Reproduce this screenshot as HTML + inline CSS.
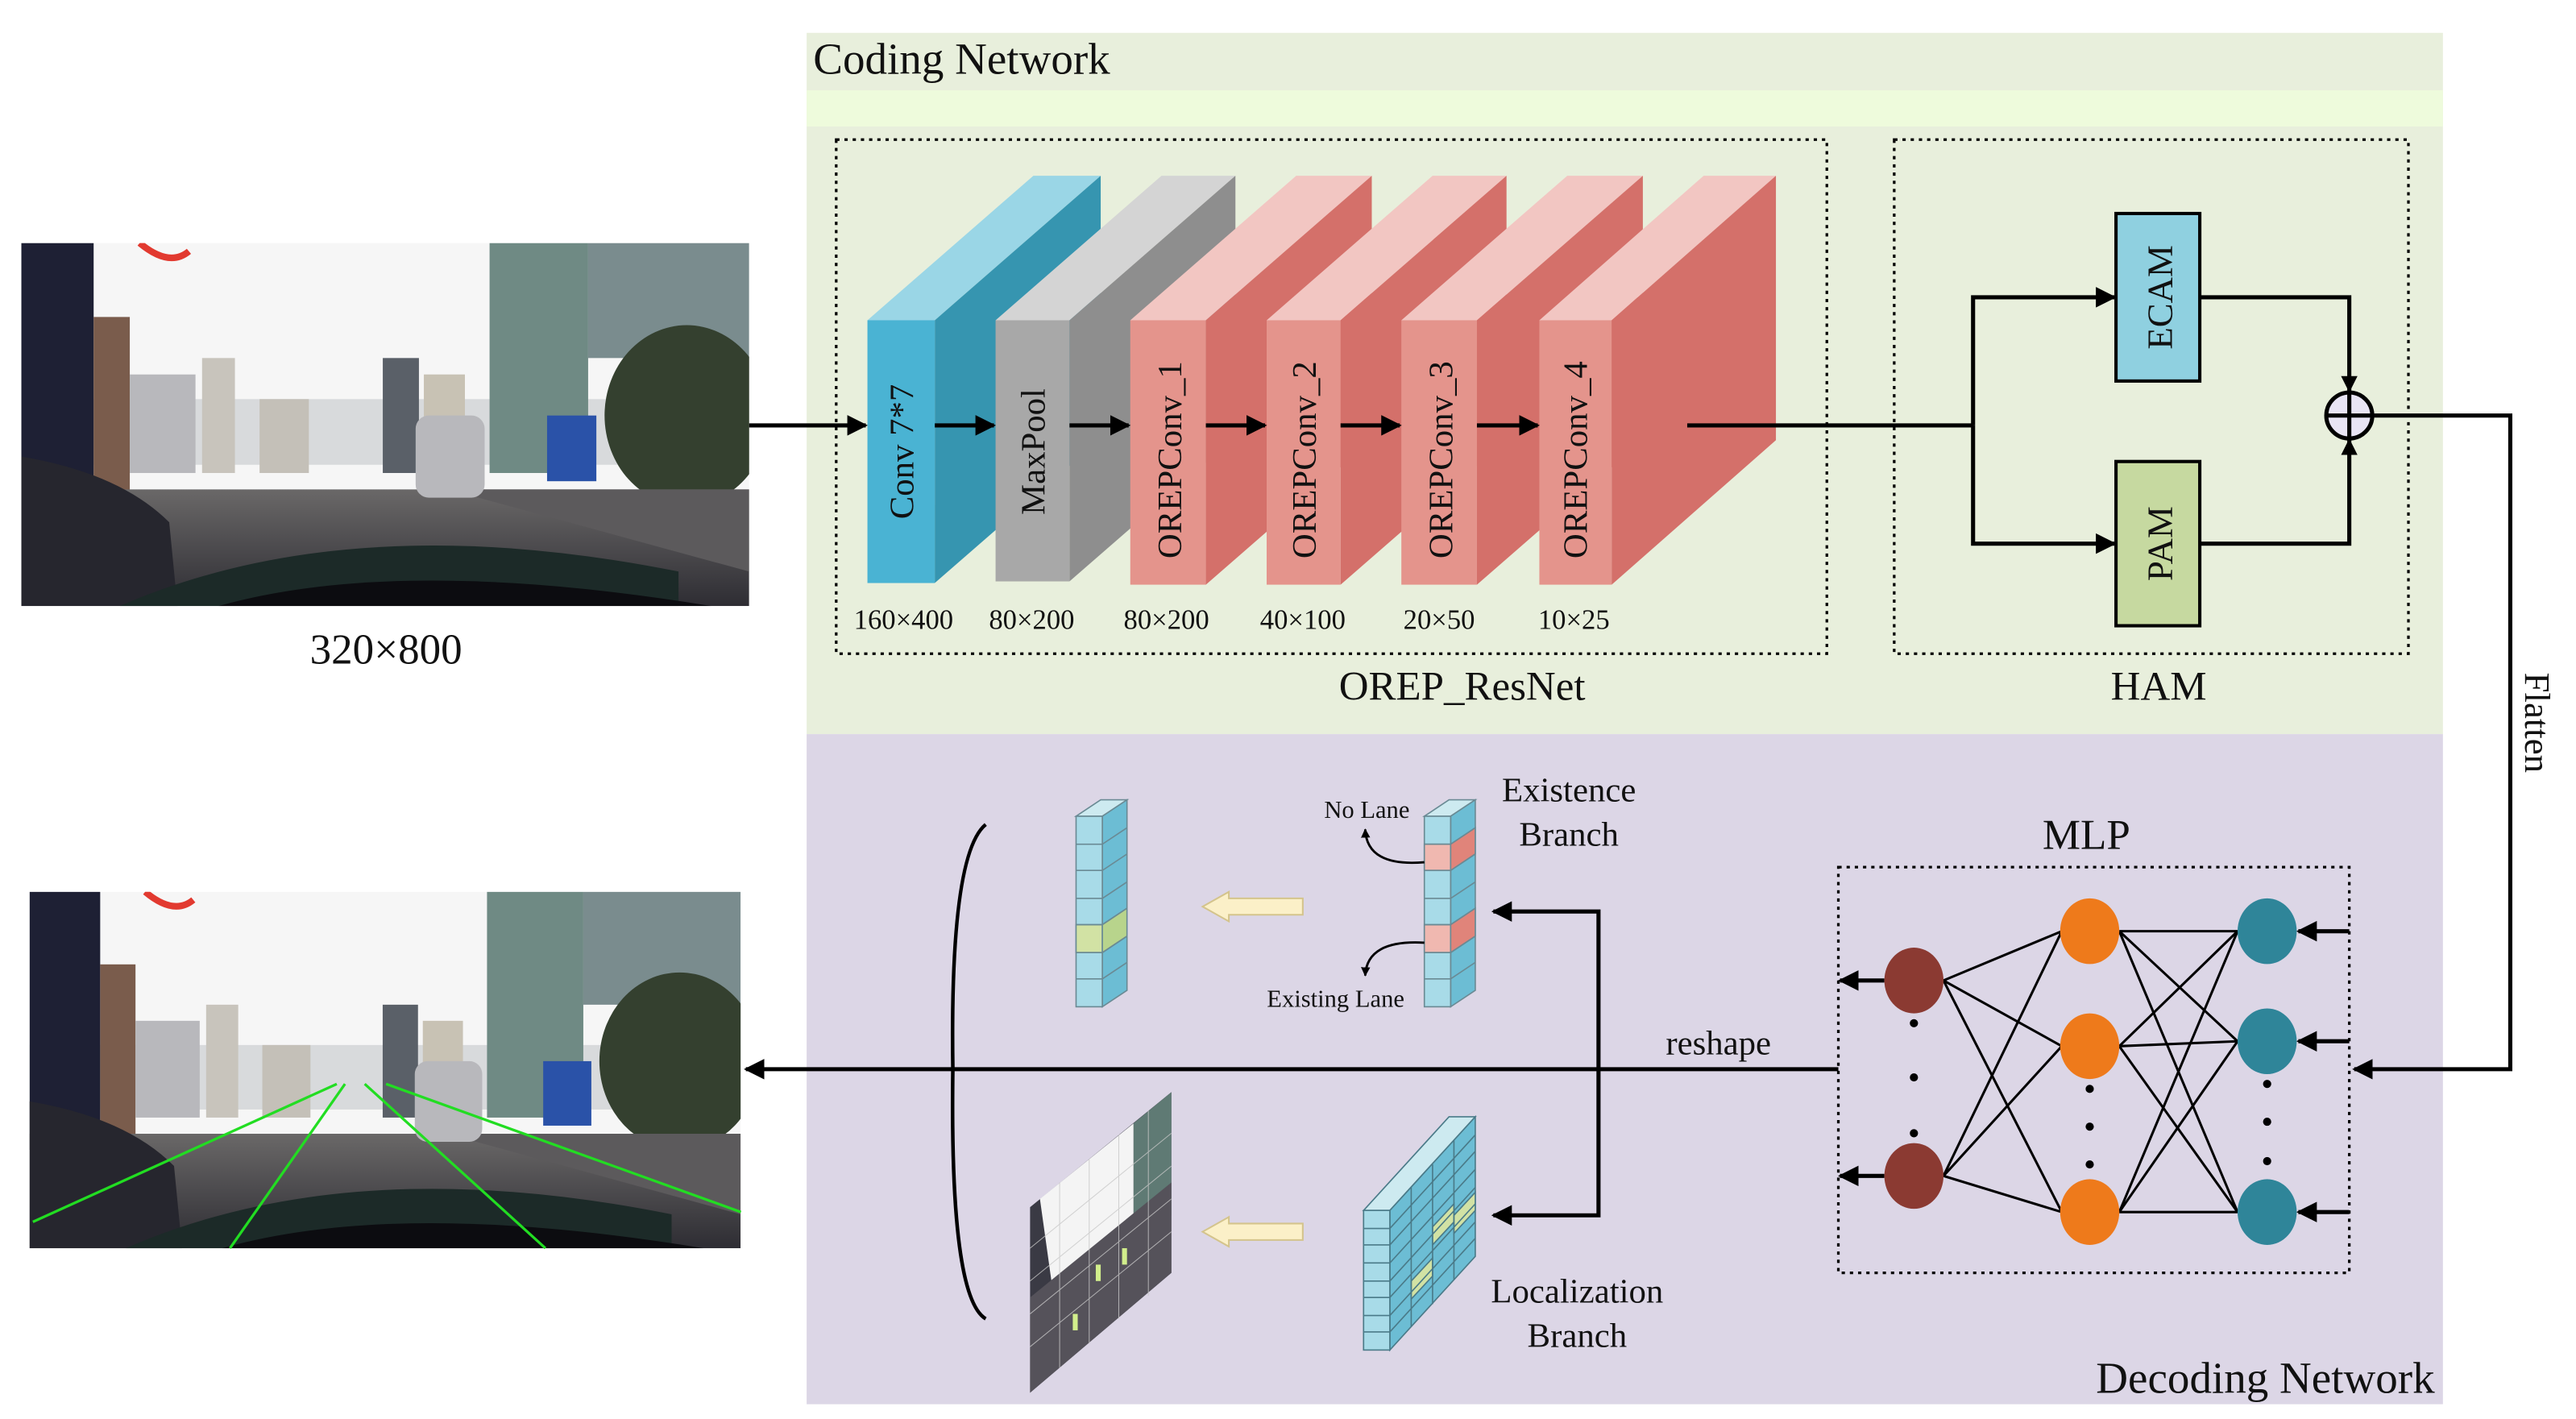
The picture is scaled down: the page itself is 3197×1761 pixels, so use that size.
<!DOCTYPE html>
<html><head><meta charset="utf-8"><style>
html,body{margin:0;padding:0;background:#fff}
svg{display:block}
text{font-family:"Liberation Serif",serif;fill:#111}
</style></head><body>
<svg width="3197" height="1761" viewBox="0 0 1568 864" preserveAspectRatio="none" xmlns="http://www.w3.org/2000/svg">
<defs>
<marker id="ah" viewBox="0 0 10 10" refX="9" refY="5" markerWidth="5" markerHeight="5" orient="auto"><path d="M0,0 L10,5 L0,10 z" fill="#000"/></marker>
<marker id="as" viewBox="0 0 10 10" refX="9" refY="5" markerWidth="4" markerHeight="4" orient="auto"><path d="M0,0 L10,5 L0,10 z" fill="#000"/></marker>
<linearGradient id="road" x1="0" y1="0" x2="0" y2="1"><stop offset="0" stop-color="#6a6868"/><stop offset="1" stop-color="#2e2d33"/></linearGradient>
<clipPath id="pc"><rect x="0" y="0" width="443" height="221"/></clipPath>
<g id="photo" clip-path="url(#pc)">
<rect x="0" y="0" width="443" height="221" fill="#f6f6f6"/>
<rect x="0" y="95" width="443" height="40" fill="#d8dadc"/>
<rect x="0" y="0" width="44" height="160" fill="#1e2034"/>
<rect x="44" y="45" width="22" height="110" fill="#7a5c4c"/>
<rect x="66" y="80" width="40" height="60" fill="#b8b8bc"/>
<rect x="110" y="70" width="20" height="70" fill="#c8c4bc"/>
<rect x="145" y="95" width="30" height="45" fill="#c4c0b8"/>
<rect x="220" y="70" width="22" height="70" fill="#5a6068"/>
<rect x="245" y="80" width="25" height="60" fill="#c8c2b4"/>
<rect x="285" y="0" width="60" height="140" fill="#6f8a84"/>
<rect x="345" y="0" width="98" height="70" fill="#7a8c8e"/>
<ellipse cx="405" cy="105" rx="50" ry="55" fill="#34402f"/>
<rect x="320" y="105" width="30" height="40" fill="#2a52a8"/>
<polygon points="0,150 443,150 443,221 0,221" fill="url(#road)"/>
<polygon points="180,150 260,150 443,200 443,150" fill="#5c5a5c"/>
<rect x="240" y="105" width="42" height="50" rx="8" fill="#b8b8bc"/>
<path d="M0,130 Q60,140 90,170 L95,221 L0,221 z" fill="#26262e"/>
<path d="M60,221 Q200,160 400,200 L400,221 z" fill="#1c2a28"/>
<path d="M120,221 Q230,190 420,221 z" fill="#0c0c10"/>
<path d="M72,0 Q90,15 102,5" stroke="#e23a30" stroke-width="4" fill="none"/>
</g>
</defs>

<rect x="491" y="20" width="996" height="427" fill="#e8efdc"/>
<rect x="491" y="55" width="996" height="22" fill="#eefbdc"/>
<rect x="491" y="447" width="996" height="408" fill="#dcd6e6"/>
<text x="495" y="45" font-size="27">Coding Network</text>
<text x="1482" y="848" font-size="27" text-anchor="end">Decoding Network</text>

<use href="#photo" transform="translate(13,148)"/>
<text x="235" y="404" font-size="26" text-anchor="middle">320×800</text>
<use href="#photo" transform="translate(18,543) scale(0.977,0.982)"/>
<g stroke="#22dd22" stroke-width="1.6">
<line x1="20" y1="744" x2="205" y2="660"/>
<line x1="140" y1="760" x2="210" y2="660"/>
<line x1="332" y1="760" x2="222" y2="660"/>
<line x1="451" y1="738" x2="235" y2="660"/>
</g>

<rect x="509" y="85" width="603" height="313" fill="none" stroke="#000" stroke-width="1.6" stroke-dasharray="2,3"/>
<rect x="1153" y="85" width="313" height="313" fill="none" stroke="#000" stroke-width="1.6" stroke-dasharray="2,3"/>
<text x="890" y="426" font-size="25" text-anchor="middle">OREP_ResNet</text>
<text x="1314" y="426" font-size="25" text-anchor="middle">HAM</text>

<g>
<polygon points="528,195 569,195 670,107 629,107" fill="#9ad6e6"/>
<polygon points="569,195 670,107 670,267 569,355" fill="#3695b0"/>
<rect x="528" y="195" width="41" height="160" fill="#4ab3d3"/>
<polygon points="606,195 651,195 752,107 707,107" fill="#d4d4d4"/>
<polygon points="651,195 752,107 752,266 651,354" fill="#8e8e8e"/>
<rect x="606" y="195" width="45" height="159" fill="#a8a8a8"/>
<polygon points="688,195 734,195 835,107 789,107" fill="#f2c6c2"/>
<polygon points="734,195 835,107 835,268 734,356" fill="#d4706a"/>
<rect x="688" y="195" width="46" height="161" fill="#e4948c"/>
<polygon points="771,195 816,195 917,107 872,107" fill="#f2c6c2"/>
<polygon points="816,195 917,107 917,268 816,356" fill="#d4706a"/>
<rect x="771" y="195" width="45" height="161" fill="#e4948c"/>
<polygon points="853,195 899,195 1000,107 954,107" fill="#f2c6c2"/>
<polygon points="899,195 1000,107 1000,268 899,356" fill="#d4706a"/>
<rect x="853" y="195" width="46" height="161" fill="#e4948c"/>
<polygon points="937,195 981,195 1081,107 1037,107" fill="#f2c6c2"/>
<polygon points="981,195 1081,107 1081,268 981,356" fill="#d4706a"/>
<rect x="937" y="195" width="44" height="161" fill="#e4948c"/>
</g>
<g font-size="21">
<text transform="translate(556,275) rotate(-90)" text-anchor="middle">Conv 7*7</text>
<text transform="translate(636,275) rotate(-90)" text-anchor="middle">MaxPool</text>
<text transform="translate(719,280) rotate(-90)" text-anchor="middle">OREPConv_1</text>
<text transform="translate(801,280) rotate(-90)" text-anchor="middle">OREPConv_2</text>
<text transform="translate(884,280) rotate(-90)" text-anchor="middle">OREPConv_3</text>
<text transform="translate(966,280) rotate(-90)" text-anchor="middle">OREPConv_4</text>
</g>
<g font-size="17" text-anchor="middle">
<text x="550" y="383">160×400</text><text x="628" y="383">80×200</text>
<text x="710" y="383">80×200</text><text x="793" y="383">40×100</text>
<text x="876" y="383">20×50</text><text x="958" y="383">10×25</text>
</g>
<g stroke="#000" stroke-width="2.5" fill="none" marker-end="url(#ah)">
<line x1="456" y1="259" x2="527" y2="259"/>
<line x1="569" y1="259" x2="605" y2="259"/>
<line x1="651" y1="259" x2="687" y2="259"/>
<line x1="734" y1="259" x2="770" y2="259"/>
<line x1="816" y1="259" x2="852" y2="259"/>
<line x1="899" y1="259" x2="936" y2="259"/>
</g>

<g stroke="#000" stroke-width="2.5" fill="none">
<line x1="1027" y1="259" x2="1201" y2="259"/>
<polyline points="1201,259 1201,181 1287,181" marker-end="url(#ah)"/>
<polyline points="1201,259 1201,331 1287,331" marker-end="url(#ah)"/>
<polyline points="1339,181 1430,181 1430,238" marker-end="url(#as)"/>
<polyline points="1339,331 1430,331 1430,268" marker-end="url(#as)"/>
<polyline points="1444,253 1528,253 1528,651 1433,651" marker-end="url(#ah)"/>
</g>
<rect x="1288" y="130" width="51" height="102" fill="#8fd0e0" stroke="#000" stroke-width="2"/>
<rect x="1288" y="281" width="51" height="100" fill="#c6d9a0" stroke="#000" stroke-width="2"/>
<circle cx="1430" cy="253" r="14" fill="#e8e4f4" stroke="#000" stroke-width="2.5"/>
<line x1="1416" y1="253" x2="1444" y2="253" stroke="#000" stroke-width="2.5"/>
<line x1="1430" y1="239" x2="1430" y2="267" stroke="#000" stroke-width="2.5"/>
<text transform="translate(1322,181) rotate(-90)" font-size="22" text-anchor="middle">ECAM</text>
<text transform="translate(1322,331) rotate(-90)" font-size="22" text-anchor="middle">PAM</text>
<text transform="translate(1537,440) rotate(90)" font-size="22" text-anchor="middle">Flatten</text>

<rect x="1119" y="528" width="311" height="247" fill="none" stroke="#000" stroke-width="1.6" stroke-dasharray="2,3"/>
<text x="1270" y="517" font-size="26" text-anchor="middle">MLP</text>
<g stroke="#000" stroke-width="1.5">
<line x1="1255" y1="567" x2="1183" y2="597"/><line x1="1255" y1="637" x2="1183" y2="597"/><line x1="1255" y1="738" x2="1183" y2="597"/>
<line x1="1255" y1="567" x2="1183" y2="716"/><line x1="1255" y1="637" x2="1183" y2="716"/><line x1="1255" y1="738" x2="1183" y2="716"/>
<line x1="1362" y1="567" x2="1290" y2="567"/><line x1="1362" y1="567" x2="1290" y2="637"/><line x1="1362" y1="567" x2="1290" y2="738"/>
<line x1="1362" y1="634" x2="1290" y2="567"/><line x1="1362" y1="634" x2="1290" y2="637"/><line x1="1362" y1="634" x2="1290" y2="738"/>
<line x1="1362" y1="738" x2="1290" y2="567"/><line x1="1362" y1="738" x2="1290" y2="637"/><line x1="1362" y1="738" x2="1290" y2="738"/>
</g>
<g stroke="#000" stroke-width="2.5" marker-end="url(#ah)">
<line x1="1430" y1="567" x2="1399" y2="567"/><line x1="1430" y1="634" x2="1399" y2="634"/><line x1="1430" y1="738" x2="1399" y2="738"/>
<line x1="1147" y1="597" x2="1120" y2="597"/><line x1="1147" y1="716" x2="1120" y2="716"/>
</g>
<g>
<ellipse cx="1165" cy="597" rx="18" ry="20" fill="#8b3a32"/><ellipse cx="1165" cy="716" rx="18" ry="20" fill="#8b3a32"/>
<ellipse cx="1272" cy="567" rx="18" ry="20" fill="#ee7a1b"/><ellipse cx="1272" cy="637" rx="18" ry="20" fill="#ee7a1b"/><ellipse cx="1272" cy="738" rx="18" ry="20" fill="#ee7a1b"/>
<ellipse cx="1380" cy="567" rx="18" ry="20" fill="#2f8599"/><ellipse cx="1380" cy="634" rx="18" ry="20" fill="#2f8599"/><ellipse cx="1380" cy="738" rx="18" ry="20" fill="#2f8599"/>
</g>
<g fill="#000">
<circle cx="1165" cy="623" r="2.5"/><circle cx="1165" cy="656" r="2.5"/><circle cx="1165" cy="690" r="2.5"/>
<circle cx="1272" cy="663" r="2.5"/><circle cx="1272" cy="686" r="2.5"/><circle cx="1272" cy="709" r="2.5"/>
<circle cx="1380" cy="660" r="2.5"/><circle cx="1380" cy="683" r="2.5"/><circle cx="1380" cy="707" r="2.5"/>
</g>

<g stroke="#000" stroke-width="2.5" fill="none">
<line x1="1119" y1="651" x2="454" y2="651" marker-end="url(#ah)"/>
<polyline points="973,651 973,555 909,555" marker-end="url(#ah)"/>
<polyline points="973,651 973,740 909,740" marker-end="url(#ah)"/>
<path d="M600,502 Q578,520 580,651 Q578,790 600,803" stroke-width="2.2"/>
</g>
<text x="1046" y="642" font-size="21" text-anchor="middle">reshape</text>

<g stroke="#6a8a94" stroke-width="0.8">
<polygon points="655,497 671,497 686,487 670,487" fill="#cdeaf0"/>
<polygon points="671,497 686,487 686,603 671,613" fill="#6cbdd4"/>
<rect x="655" y="497" width="16" height="116" fill="#a8dbe8"/>
<rect x="655" y="563" width="16" height="17" fill="#d2e2a4"/>
<polygon points="671,580 686,570 686,553 671,563" fill="#b8d48c"/>
<line x1="655" y1="514" x2="671" y2="514"/><line x1="655" y1="530" x2="671" y2="530"/><line x1="655" y1="547" x2="671" y2="547"/><line x1="655" y1="563" x2="671" y2="563"/><line x1="655" y1="580" x2="671" y2="580"/><line x1="655" y1="596" x2="671" y2="596"/>
<line x1="671" y1="514" x2="686" y2="504"/><line x1="671" y1="530" x2="686" y2="520"/><line x1="671" y1="547" x2="686" y2="537"/><line x1="671" y1="563" x2="686" y2="553"/><line x1="671" y1="580" x2="686" y2="570"/><line x1="671" y1="596" x2="686" y2="586"/>

<polygon points="867,497 883,497 898,487 882,487" fill="#cdeaf0"/>
<polygon points="883,497 898,487 898,603 883,613" fill="#6cbdd4"/>
<rect x="867" y="497" width="16" height="116" fill="#a8dbe8"/>
<rect x="867" y="514" width="16" height="16" fill="#f0b8b0"/>
<polygon points="883,530 898,520 898,504 883,514" fill="#e0847a"/>
<rect x="867" y="563" width="16" height="17" fill="#f0b8b0"/>
<polygon points="883,580 898,570 898,553 883,563" fill="#e0847a"/>
<line x1="867" y1="514" x2="883" y2="514"/><line x1="867" y1="530" x2="883" y2="530"/><line x1="867" y1="547" x2="883" y2="547"/><line x1="867" y1="563" x2="883" y2="563"/><line x1="867" y1="580" x2="883" y2="580"/><line x1="867" y1="596" x2="883" y2="596"/>
<line x1="883" y1="514" x2="898" y2="504"/><line x1="883" y1="530" x2="898" y2="520"/><line x1="883" y1="547" x2="898" y2="537"/><line x1="883" y1="563" x2="898" y2="553"/><line x1="883" y1="580" x2="898" y2="570"/><line x1="883" y1="596" x2="898" y2="586"/>
</g>
<g stroke="#000" stroke-width="1.4" fill="none" marker-end="url(#as)">
<path d="M867,525 Q832,528 831,505"/>
<path d="M867,574 Q832,572 831,594"/>
</g>
<text x="832" y="498" font-size="15" text-anchor="middle">No Lane</text>
<text x="813" y="613" font-size="15" text-anchor="middle">Existing Lane</text>
<text x="955" y="488" font-size="21" text-anchor="middle">Existence</text>
<text x="955" y="515" font-size="21" text-anchor="middle">Branch</text>
<text x="960" y="793" font-size="21" text-anchor="middle">Localization</text>
<text x="960" y="820" font-size="21" text-anchor="middle">Branch</text>

<g fill="#fbf0c8" stroke="#d4c48c" stroke-width="1">
<polygon points="793,547 748,547 748,543 732,552 748,561 748,557 793,557"/>
<polygon points="793,745 748,745 748,741 732,750 748,759 748,755 793,755"/>
</g>

<g stroke="#4a7a88" stroke-width="0.8">
<polygon points="830,737 846,737 898,680 882,680" fill="#cdeaf0"/>
<polygon points="846,737 898,680 898,765 846,822" fill="#6cbdd4"/>
<rect x="830" y="737" width="16" height="85" fill="#a8dbe8"/>
<polygon points="872,747 885,733 885,744 872,758" fill="#d2e2a4"/>
<polygon points="885,740 898,726 898,737 885,751" fill="#d2e2a4"/>
<polygon points="859,780 872,766 872,777 859,791" fill="#d2e2a4"/>
<line x1="859" y1="723" x2="859" y2="808"/><line x1="872" y1="709" x2="872" y2="794"/><line x1="885" y1="694" x2="885" y2="779"/>
<line x1="830" y1="748" x2="846" y2="748"/><line x1="830" y1="758" x2="846" y2="758"/><line x1="830" y1="769" x2="846" y2="769"/><line x1="830" y1="780" x2="846" y2="780"/><line x1="830" y1="790" x2="846" y2="790"/><line x1="830" y1="801" x2="846" y2="801"/><line x1="830" y1="811" x2="846" y2="811"/>
<line x1="846" y1="748" x2="898" y2="691"/><line x1="846" y1="758" x2="898" y2="701"/><line x1="846" y1="769" x2="898" y2="712"/><line x1="846" y1="780" x2="898" y2="723"/><line x1="846" y1="790" x2="898" y2="733"/><line x1="846" y1="801" x2="898" y2="744"/><line x1="846" y1="811" x2="898" y2="754"/>
</g>

<polygon points="627,735 713,665 713,775 627,848" fill="#3a3a44"/>
<polygon points="633,730 690,684 690,740 640,780" fill="#f4f4f4"/>
<polygon points="690,684 713,665 713,740 690,760" fill="#5f7a74"/>
<polygon points="627,790 713,720 713,775 627,848" fill="#55525a"/>
<g stroke="#c8c8c8" stroke-width="0.5" opacity="0.8">
<line x1="627" y1="760" x2="713" y2="690"/><line x1="627" y1="780" x2="713" y2="710"/><line x1="627" y1="800" x2="713" y2="730"/><line x1="627" y1="820" x2="713" y2="750"/>
<line x1="645" y1="720" x2="645" y2="833"/><line x1="663" y1="706" x2="663" y2="818"/><line x1="681" y1="691" x2="681" y2="803"/><line x1="699" y1="676" x2="699" y2="789"/>
</g>
<rect x="667" y="770" width="3" height="10" fill="#d2ee8c"/>
<rect x="683" y="760" width="3" height="10" fill="#d2ee8c"/>
<rect x="653" y="800" width="3" height="10" fill="#d2ee8c"/>
</svg>
</body></html>
